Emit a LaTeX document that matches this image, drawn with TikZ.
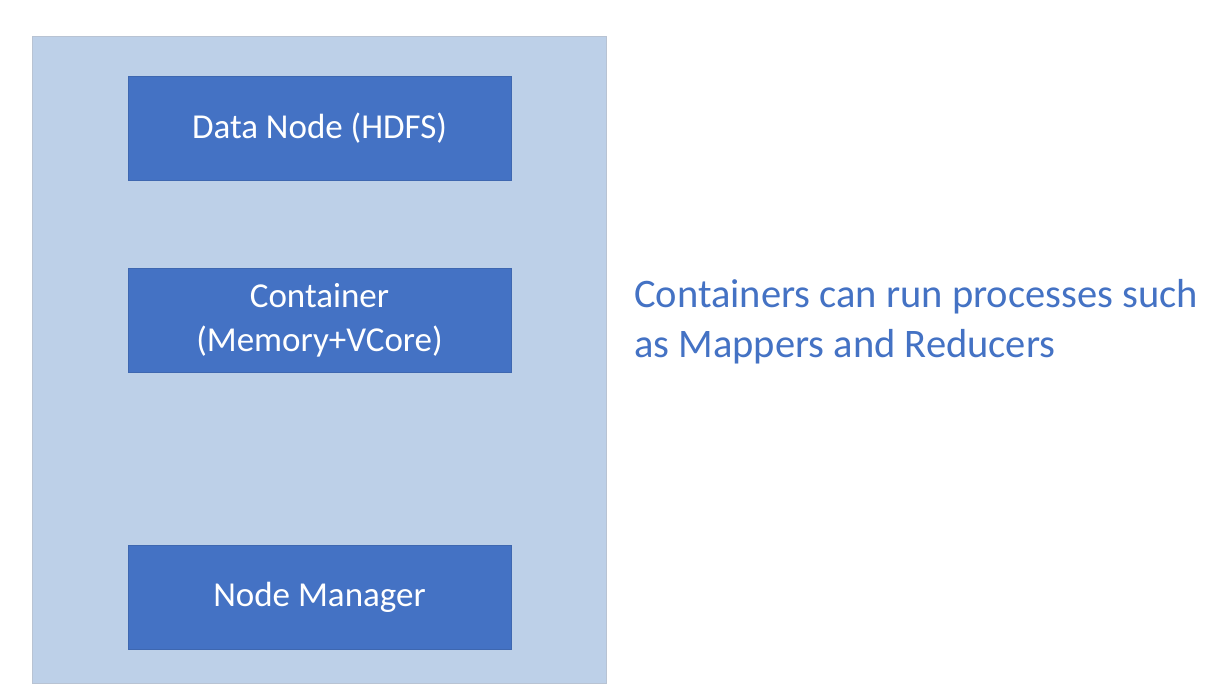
\documentclass[tikz,border=0pt]{standalone}
\usepackage{fontspec}
\setmainfont{Carlito}
\definecolor{outerfill}{HTML}{BDD0E8}
\definecolor{outerline}{HTML}{B8C3D3}
\definecolor{boxfill}{HTML}{4472C4}
\definecolor{boxline}{HTML}{3E67B0}
\definecolor{notecol}{HTML}{4472C4}
\tikzset{
  outerbox/.style={fill=outerfill, draw=outerline, line width=0.8pt},
  compbox/.style={fill=boxfill, draw=boxline, line width=0.8pt, minimum width=383pt, minimum height=104pt, inner sep=0pt, text=white, align=center, font=\fontsize{35}{44}\selectfont},
  note/.style={text=notecol, align=left, anchor=north west, inner sep=0pt, font=\fontsize{40.5}{50}\selectfont}
}
\begin{document}
\begin{tikzpicture}[x=1pt,y=-1pt]
\useasboundingbox (0,0) rectangle (1213,697);
\fill[white] (0,0) rectangle (1213,697);
\draw[outerbox] (32,36) rectangle (606,683);
\node[compbox] (data) at (319.5,128.5) {Data Node (HDFS)};
\node[compbox] (cont) at (319.5,320) {Container\\(Memory+VCore)};
\node[compbox] (nm) at (319.5,597.5) {Node Manager};
\node[note] (txt) at (634,279) {Containers can run processes such\\as Mappers and Reducers};
\end{tikzpicture}
\end{document}
